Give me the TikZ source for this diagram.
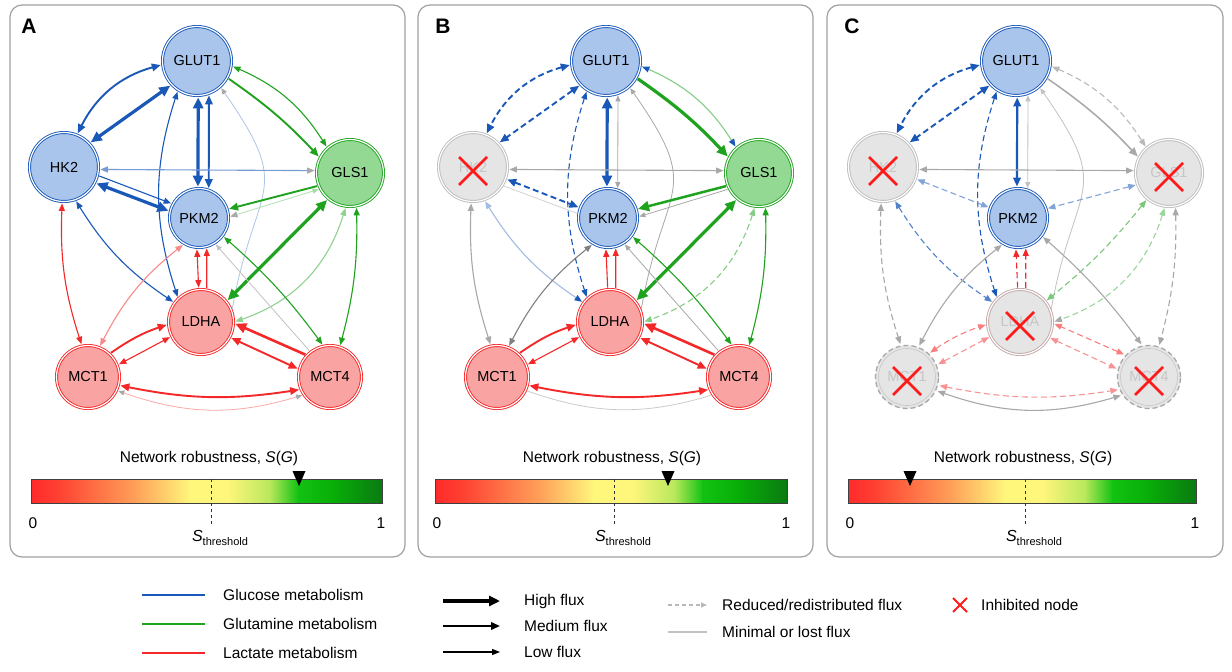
\documentclass[tikz,border=0pt]{standalone}
\usepackage{fontspec}
\setmainfont{Liberation Sans}
\usetikzlibrary{arrows.meta}
\definecolor{eB}{HTML}{1A58B8}
\definecolor{bF}{HTML}{A9C5EC}
\definecolor{eG}{HTML}{1FA31F}
\definecolor{gF}{HTML}{93D993}
\definecolor{eR}{HTML}{F42828}
\definecolor{rF}{HTML}{F9A3A3}
\definecolor{gY}{HTML}{A8A8A8}
\definecolor{iL}{HTML}{BDBDBD}
\definecolor{iF}{HTML}{E5E5E5}
\definecolor{iT}{HTML}{C6C6C6}
\definecolor{xR}{HTML}{FF1A1A}
\definecolor{cb0}{HTML}{FF2A2A}
\definecolor{cb1}{HTML}{FF4232}
\definecolor{cb2}{HTML}{FFA25A}
\definecolor{cb3}{HTML}{FFF67C}
\definecolor{cb4}{HTML}{B8E85C}
\definecolor{cb5}{HTML}{12C212}
\definecolor{cb6}{HTML}{08AE08}
\definecolor{cb7}{HTML}{0A7A12}
\tikzset{
 tH/.tip={Triangle[length=11pt,width=10pt]},
 tM/.tip={Triangle[length=9pt,width=7.5pt]},
 tL/.tip={Triangle[length=7.5pt,width=6pt]},
 tS/.tip={Triangle[length=6pt,width=5pt]},
 W3/.style={line width=3.2pt, >=tH, shorten >=1.5pt, shorten <=1.5pt},
 W2/.style={line width=1.9pt, >=tM, shorten >=1.5pt, shorten <=1.5pt},
 W1/.style={line width=1.1pt, >=tL, shorten >=1.5pt, shorten <=1.5pt},
 W0/.style={line width=0.8pt, >=tS, shorten >=1.5pt, shorten <=1.5pt},
 dsh/.style={dash pattern=on 6pt off 3.5pt},
 nd/.style={circle, inner sep=0pt, font=\fontsize{14.5}{16}\selectfont, text=black, line width=0.9pt, double=white, double distance=1.2pt},
 bN/.style={nd, fill=bF, draw=eB},
 gN/.style={nd, fill=gF, draw=eG},
 rN/.style={nd, fill=rF, draw=eR},
 iN/.style={nd, fill=iF, draw=iL, text=iT},
 iNr/.style={nd, fill=iF, draw={rgb,255:red,196;green,168;blue,168}, text=iT},
 iNd/.style={circle, inner sep=0pt, font=\fontsize{14.5}{16}\selectfont, fill=iF, draw=gY, line width=1.3pt, dash pattern=on 5pt off 3pt, text=iT},
 panel/.style={draw={rgb,255:red,160;green,160;blue,160}, line width=1.2pt, rounded corners=12pt},
 plabel/.style={font=\fontsize{21}{21}\selectfont\bfseries},
 txt/.style={font=\fontsize{15.5}{17}\selectfont, inner sep=0pt},
}
\newcommand{\nodeset}[8]{%
 \node[#2, minimum size=69pt] (#1GLUT1) at (197,-61) {GLUT1};
 \node[#3, minimum size=69pt] (#1HK2) at (64,-167) {HK2};
 \node[#4, minimum size=67pt] (#1GLS1) at (350,-173) {GLS1};
 \node[#5, minimum size=59pt] (#1PKM2) at (199,-218) {PKM2};
 \node[#6, minimum size=65pt] (#1LDHA) at (201,-322) {LDHA};
 \node[#7, minimum size=63pt] (#1MCT1) at (88,-377) {MCT1};
 \node[#8, minimum size=63pt] (#1MCT4) at (330,-377) {MCT4};
}
\newcommand{\redx}[1]{\draw[xR,line width=2.8pt] ([shift={(-14,10)}]#1.center) -- ([shift={(14,-18)}]#1.center) ([shift={(14,10)}]#1.center) -- ([shift={(-14,-18)}]#1.center);}
% #1 prefix, #2 left x, #3 right x, #4 marker x, #5 threshold x
\newcommand{\cbar}[5]{%
 \foreach \fa/\fb/\ca/\cbb in {0/0.08/cb0/cb1, 0.08/0.3/cb1/cb2, 0.3/0.45/cb2/cb3, 0.45/0.56/cb3/cb3, 0.56/0.68/cb3/cb4, 0.68/0.76/cb4/cb5, 0.76/0.86/cb5/cb6, 0.86/1/cb6/cb7}
  \shade[left color=\ca, right color=\cbb] ({#2+\fa*(#3-#2)},-479) rectangle ({#2+\fb*(#3-#2)+0.6},-503);
 \draw[line width=0.8pt, black!75] (#2,-479) rectangle (#3,-503);
 \coordinate (#1thtop) at (#5,-479);
 \coordinate (#1thbot) at (#5,-525);
 \draw[dashed, line width=0.7pt, black!80] (#1thtop) -- (#1thbot);
 \fill[black] (#4-6.5,-471) -- (#4+6.5,-471) -- (#4,-486) -- cycle;
 \node[txt] (#1rob) at (#5-2,-458) {Network robustness, \textit{S}(\textit{G})};
 \node[txt] (#1zero) at (#2+2,-523) {0};
 \node[txt] (#1one) at (#3-1,-523) {1};
 \node[inner sep=0pt] (#1sth) at (#5+9,-538) {\fontsize{16}{16}\selectfont\textit{S}\raisebox{-4pt}{\fontsize{11}{11}\selectfont threshold}};
}
\begin{document}
\begin{tikzpicture}[x=1pt,y=1pt]
\useasboundingbox (0,0) rectangle (1232,-672);
\fill[white] (0,0) rectangle (1232,-672);
% panel frames
\draw[panel] (10,-5) rectangle (405,-557);
\draw[panel] (418,-5) rectangle (813,-557);
\draw[panel] (827,-5) rectangle (1223,-557);
\node[plabel] (labA) at (29,-26) {A};
\node[plabel] (labB) at (443,-26) {B};
\node[plabel] (labC) at (852,-26) {C};

% ================= PANEL A =================
\nodeset{a}{bN}{bN}{gN}{bN}{rN}{rN}{rN}
\draw[eB,W2,<->] (aGLUT1.186) to[bend right=24] (aHK2.68);
\draw[eB,W3,<->] (aGLUT1.223) -- (aHK2.43);
\draw[eB,W3,<->] (aGLUT1.272) -- (aPKM2.92);
\draw[eB,W2,<->] (aGLUT1.290) -- (aPKM2.71);
\draw[eB,W1,<->] (aGLUT1.237) to[bend right=18] (aLDHA.134);
\draw[eB!35,W0,arrows={-Triangle[length=6pt,width=5pt,color=gY]}] (aLDHA.20) to[out=80,in=-55,looseness=1.5] (aGLUT1.312);
\draw[eG,W1,<->] (aGLUT1.352) to[bend left=17] (aGLS1.132);
\draw[eG,W2,->] (aGLUT1.331) to[bend left=6] (aGLS1.153);
\draw[eB!60,W1,arrows={tL-Triangle[length=7.5pt,width=6pt,color=gY]}] (aHK2.356) -- (aGLS1.176);
\draw[eB,W3,<->] (aHK2.333) -- (aPKM2.167);
\draw[eB,W1,->] (aHK2.346) -- (aPKM2.152);
\draw[eB,W1,<->] (aHK2.289) to[bend right=12] (aLDHA.144);
\draw[eR,W1,<->] (aHK2.267) to[bend right=10] (aMCT1.101);
\draw[eR!55,W1,<->] (aPKM2.240) to[bend right=12] (aMCT1.69);
\draw[eR,W1,<->] (aLDHA.94) -- (aPKM2.266);
\draw[eR,W1,->] (aLDHA.80) -- (aPKM2.285);
\draw[eG,W2,->] (aGLS1.202) -- (aPKM2.17);
\draw[eG!35,W0,arrows={Triangle[length=6pt,width=5pt,color=eG!40]-Triangle[length=7pt,width=6pt,color=gY]}] (aGLS1.208) -- (aPKM2.2);
\draw[eG,W3,<->] (aGLS1.230) -- (aLDHA.39);
\draw[eG!50,W1,<->] (aGLS1.263) to[bend left=27] (aLDHA.0);
\draw[eG,W1,<->] (aGLS1.281) to[bend left=8] (aMCT4.72);
\draw[eG,W1,<->] (aPKM2.323) to[bend left=6] (aMCT4.102);
\draw[gY!70,W0,->] (aMCT4.128) -- (aPKM2.302);
\draw[eR,W2,->] (aMCT1.47) to[bend left=8] (aLDHA.184);
\draw[eR,W1,<->] (aMCT1.22) -- (aLDHA.206);
\draw[eR,line width=2.6pt,>=tH,shorten >=1.5pt,shorten <=1.5pt,->] (aMCT4.137) -- (aLDHA.358);
\draw[eR,W2,<->] (aLDHA.332) -- (aMCT4.166);
\draw[eR,W2,<->] (aMCT1.345) to[bend right=10] (aMCT4.203);
\draw[eR!40,W0,arrows={Triangle[length=6pt,width=5pt,color=gY]-Triangle[length=6pt,width=5pt,color=gY]}] (aMCT1.335) to[bend right=18] (aMCT4.214);
\cbar{a}{31}{382}{299}{211}

% ================= PANEL B =================
\begin{scope}[xshift=409pt]
\nodeset{b}{bN}{iN}{gN}{bN}{rN}{rN}{rN}
\draw[eB,W2,dsh,<->] (bGLUT1.186) to[bend right=24] (bHK2.68);
\draw[eB,W2,dsh,<->] (bGLUT1.223) -- (bHK2.43);
\draw[eB,W3,<->] (bGLUT1.272) -- (bPKM2.92);
\draw[gY,W0,<->] (bGLUT1.290) -- (bPKM2.71);
\draw[eB,W1,dsh,<->] (bGLUT1.237) to[bend right=18] (bLDHA.134);
\draw[gY,W0,->] (bLDHA.20) to[out=80,in=-55,looseness=1.5] (bGLUT1.312);
\draw[eG!55,W1,arrows={Triangle[length=7.5pt,width=6pt,color=eB]-Triangle[length=7.5pt,width=6pt,color=eB]}] (bGLUT1.352) to[bend left=17] (bGLS1.132);
\draw[eG,W3,->] (bGLUT1.331) to[bend left=6] (bGLS1.153);
\draw[gY,W1,<->] (bHK2.356) -- (bGLS1.176);
\draw[eB,W2,dsh,<->] (bHK2.340) -- (bPKM2.160);
\draw[gY!50,W0] (bHK2.328) -- (bPKM2.172);
\draw[eB!40,W1,arrows={Triangle[length=7.5pt,width=6pt,color=eB!40]-Triangle[length=7.5pt,width=6pt,color=eB]}] (bHK2.289) to[bend right=12] (bLDHA.144);
\draw[gY,W1,<->] (bHK2.267) to[bend right=10] (bMCT1.101);
\draw[gray,W1,<->] (bPKM2.240) to[bend right=12] (bMCT1.69);
\draw[eR,W1,->] (bLDHA.94) -- (bPKM2.266);
\draw[eR,W1,->] (bLDHA.80) -- (bPKM2.285);
\draw[eG,line width=2.5pt,>=tH,shorten >=1.5pt,shorten <=1.5pt,->] (bGLS1.202) -- (bPKM2.17);
\draw[gY,W0,->] (bGLS1.208) -- (bPKM2.2);
\draw[eG,W3,<->] (bGLS1.230) -- (bLDHA.39);
\draw[eG!55,W1,dsh,<->] (bGLS1.263) to[bend left=27] (bLDHA.0);
\draw[eG,W1,<->] (bGLS1.281) to[bend left=8] (bMCT4.72);
\draw[eG,W1,<->] (bPKM2.323) to[bend left=6] (bMCT4.102);
\draw[gY,W0,->] (bMCT4.128) -- (bPKM2.302);
\draw[eR,W2,->] (bMCT1.47) to[bend left=8] (bLDHA.184);
\draw[eR,W1,<->] (bMCT1.22) -- (bLDHA.206);
\draw[eR,line width=2.6pt,>=tH,shorten >=1.5pt,shorten <=1.5pt,->] (bMCT4.137) -- (bLDHA.358);
\draw[eR,W2,<->] (bLDHA.332) -- (bMCT4.166);
\draw[eR,W2,<->] (bMCT1.345) to[bend right=10] (bMCT4.203);
\draw[gY!60,W0] (bMCT1.335) to[bend right=18] (bMCT4.214);
\redx{bHK2}
\end{scope}
\cbar{b}{435}{787}{668}{614}

% ================= PANEL C =================
\begin{scope}[xshift=819pt]
\nodeset{c}{bN}{iN}{iN}{bN}{iNr}{iNd}{iNd}
\draw[gray!45, line width=0.6pt] (cMCT1.center) circle (28.5pt);
\draw[gray!45, line width=0.6pt] (cMCT4.center) circle (28.5pt);
\draw[eB,W2,dsh,<->] (cGLUT1.186) to[bend right=24] (cHK2.68);
\draw[eB,W2,dsh,<->] (cGLUT1.223) -- (cHK2.43);
\draw[eB,line width=2.2pt,>=tM,shorten >=1.5pt,shorten <=1.5pt,<->] (cGLUT1.272) -- (cPKM2.92);
\draw[gY!70,W0,<->] (cGLUT1.290) -- (cPKM2.71);
\draw[eB,W1,dsh,<->] (cGLUT1.237) to[bend right=18] (cLDHA.134);
\draw[gY!70,W0,->] (cLDHA.20) to[out=80,in=-55,looseness=1.5] (cGLUT1.312);
\draw[gY!80,W1,dsh,<->] (cGLUT1.352) to[bend left=17] (cGLS1.132);
\draw[gY,line width=1.5pt,>=tM,shorten >=1.5pt,shorten <=1.5pt,->] (cGLUT1.331) to[bend left=6] (cGLS1.153);
\draw[gY,W1,<->] (cHK2.356) -- (cGLS1.176);
\draw[eB!55,W1,dsh,<->] (cHK2.340) -- (cPKM2.160);
\draw[eB!55,W1,dsh,<->] (cGLS1.200) -- (cPKM2.18);
\draw[eB!75,W1,dsh,<->] (cHK2.289) to[bend right=12] (cLDHA.144);
\draw[gY,W1,dsh,<->] (cHK2.267) to[bend right=10] (cMCT1.101);
\draw[gY,W1,<->] (cPKM2.240) to[bend right=12] (cMCT1.69);
\draw[eR,W1,dsh,->] (cLDHA.94) -- (cPKM2.266);
\draw[eR,W1,dsh,->] (cLDHA.80) -- (cPKM2.285);
\draw[eG!60,W1,dsh,<->] (cGLS1.230) to[bend left=6] (cLDHA.39);
\draw[eG!45,W1,dsh,arrows={Triangle[length=7.5pt,width=6pt,color=eG!45]-Triangle[length=7.5pt,width=6pt,color=gY]}] (cGLS1.263) to[bend left=27] (cLDHA.0);
\draw[gY,W1,dsh,<->] (cGLS1.281) to[bend left=8] (cMCT4.72);
\draw[gY,W1,<->] (cPKM2.323) to[bend left=6] (cMCT4.102);
\draw[eR!60,W1,dsh,<->] (cMCT1.47) to[bend left=8] (cLDHA.184);
\draw[eR!50,W1,dsh,<->] (cMCT1.22) -- (cLDHA.206);
\draw[eR!60,W1,dsh,<->] (cMCT4.137) -- (cLDHA.358);
\draw[eR!50,W1,dsh,<->] (cLDHA.332) -- (cMCT4.166);
\draw[eR!50,W1,dsh,<->] (cMCT1.345) to[bend right=10] (cMCT4.203);
\draw[gY,W1,<->] (cMCT1.335) to[bend right=18] (cMCT4.214);
\redx{cHK2}
\redx{cGLS1}
\redx{cLDHA}
\redx{cMCT1}
\redx{cMCT4}
\end{scope}
\cbar{c}{848}{1196}{910}{1025}

% ================= LEGEND =================
\draw[eB, line width=2pt] (142,-595) -- (205,-595);
\draw[eG, line width=2pt] (142,-624) -- (205,-624);
\draw[eR, line width=2pt] (142,-653) -- (205,-653);
\node[txt, anchor=west] (lg1) at (223,-595) {Glucose metabolism};
\node[txt, anchor=west] (lg2) at (223,-624) {Glutamine metabolism};
\node[txt, anchor=west] (lg3) at (223,-653) {Lactate metabolism};
\draw[black, line width=3.6pt, -{Triangle[length=11pt,width=10pt]}] (443,-601) -- (500,-601);
\draw[black, line width=2pt, -{Triangle[length=9pt,width=7.5pt]}] (443,-626) -- (500,-626);
\draw[black, line width=1.2pt, -{Triangle[length=8pt,width=6pt]}] (443,-652) -- (500,-652);
\node[txt, anchor=west] (lg4) at (524,-601) {High flux};
\node[txt, anchor=west] (lg5) at (524,-626) {Medium flux};
\node[txt, anchor=west] (lg6) at (524,-652) {Low flux};
\draw[gY!80, line width=1.2pt, dash pattern=on 4pt off 3pt, -{Triangle[length=6pt,width=5pt]}] (668,-605) -- (707,-605);
\draw[gY!70, line width=1.5pt] (668,-632) -- (707,-632);
\node[txt, anchor=west] (lg7) at (722,-605) {Reduced/redistributed flux};
\node[txt, anchor=west] (lg8) at (722,-632) {Minimal or lost flux};
\draw[xR, line width=2pt] (953,-598) -- (967,-612) (967,-598) -- (953,-612);
\node[txt, anchor=west] (lg9) at (981,-605) {Inhibited node};
\end{tikzpicture}
\end{document}
